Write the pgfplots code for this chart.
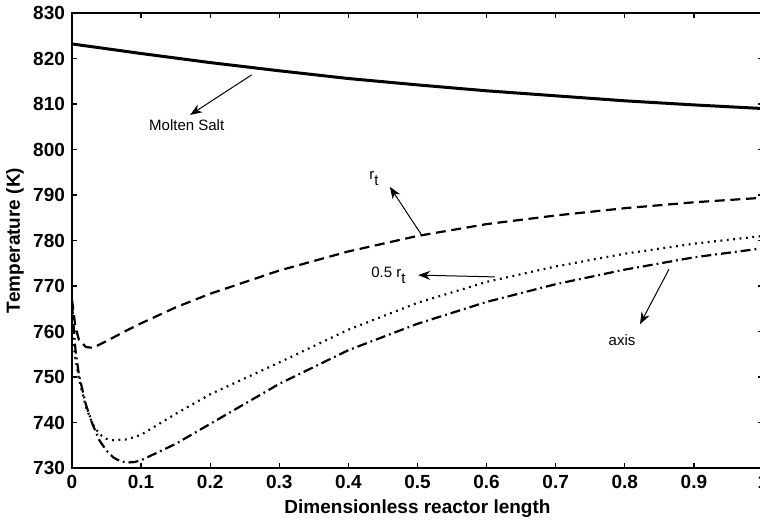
\documentclass[border=0pt]{standalone}
\usepackage{pgfplots}
\pgfplotsset{compat=1.18}
\usepackage{fontspec}
\setmainfont{Liberation Sans}
\usetikzlibrary{arrows.meta}

% Temperature profiles along the reactor
\pgfplotstableread{
x     T
0     823.2
0.1   821.1
0.2   819.1
0.3   817.3
0.4   815.6
0.5   814.2
0.6   812.9
0.7   811.8
0.8   810.7
0.9   809.8
1.0   809.0
}\salt

\pgfplotstableread{
x      T
0      767.0
0.005  761.0
0.01   758.2
0.02   756.6
0.03   756.4
0.05   757.9
0.08   760.3
0.1    761.8
0.15   765.3
0.2    768.3
0.3    773.4
0.4    777.6
0.5    781.0
0.6    783.6
0.7    785.5
0.8    787.1
0.9    788.4
1.0    789.4
}\wall

\pgfplotstableread{
x      T
0      760.0
0.005  754.0
0.01   749.5
0.02   743.5
0.03   739.6
0.04   737.4
0.05   736.4
0.06   736.1
0.08   736.3
0.1    737.3
0.15   741.9
0.2    746.2
0.3    753.2
0.4    760.4
0.5    766.3
0.6    770.9
0.7    774.3
0.8    777.1
0.9    779.3
1.0    781.0
}\half

\pgfplotstableread{
x      T
0      766.0
0.005  756.0
0.01   750.5
0.02   744.0
0.03   739.5
0.04   736.0
0.05   733.8
0.06   732.3
0.07   731.5
0.08   731.2
0.09   731.3
0.1    731.7
0.15   735.3
0.2    739.7
0.3    748.5
0.4    755.9
0.5    761.7
0.6    766.5
0.7    770.4
0.8    773.6
0.9    776.3
1.0    778.3
}\centre

% tube radius symbol with a lowered subscript t
\newcommand{\rt}{r\raisebox{-0.75ex}{t}}

\begin{document}
\begin{tikzpicture}
\begin{axis}[
  scale only axis,
  width=345.5pt, height=227.5pt,
  xmin=0, xmax=1, ymin=730, ymax=830,
  xtick={0,0.1,0.2,0.3,0.4,0.5,0.6,0.7,0.8,0.9,1},
  xticklabels={0,0.1,0.2,0.3,0.4,0.5,0.6,0.7,0.8,0.9,1},
  ytick={730,740,750,760,770,780,790,800,810,820,830},
  tick align=inside, xtick pos=both, ytick pos=both,
  major tick length=2.6pt,
  tick style={line width=0.6pt, black},
  axis line style={line width=0.6pt},
  /pgf/number format/assume math mode=true,
  ticklabel style={font=\fontsize{9.5}{10}\selectfont\bfseries},
  xlabel={Dimensionless reactor length},
  ylabel={Temperature (K)},
  label style={font=\fontsize{9.5}{10}\selectfont\bfseries},
  xlabel style={at={([yshift=-20.5pt]axis description cs:0.5,0)}, anchor=center},
  ylabel style={at={([xshift=-28.5pt]axis description cs:0,0.5)}, anchor=center},
  clip=true,
]
\addplot[black, line width=1.5pt] table[x=x,y=T] {\salt};
\addplot[black, line width=1.1pt, dash pattern=on 5pt off 2.8pt] table[x=x,y=T] {\wall};
\addplot[black, line width=1.1pt, dash pattern=on 0.9pt off 2.3pt] table[x=x,y=T] {\half};
\addplot[black, line width=1.1pt, dash pattern=on 5pt off 2pt on 0.9pt off 2pt] table[x=x,y=T] {\centre};

% annotations
\draw[line width=0.5pt, -{Stealth[length=6pt,width=4.5pt]}] (axis cs:0.260,816.4) -- (axis cs:0.171,807.6);
\node[font=\fontsize{7.5}{8}\selectfont] at (axis cs:0.166,805.3) {Molten Salt};

\draw[line width=0.5pt, -{Stealth[length=6pt,width=4.5pt]}] (axis cs:0.506,781.2) -- (axis cs:0.460,791.8);
\node[font=\fontsize{7.5}{8}\selectfont] at (axis cs:0.437,793.7) {\rt};

\draw[line width=0.5pt, -{Stealth[length=6pt,width=4.5pt]}] (axis cs:0.612,772.0) -- (axis cs:0.501,772.4);
\node[font=\fontsize{7.5}{8}\selectfont] at (axis cs:0.458,772.3) {0.5 \rt};

\draw[line width=0.5pt, -{Stealth[length=6pt,width=4.5pt]}] (axis cs:0.864,773.7) -- (axis cs:0.822,761.6);
\node[font=\fontsize{7.5}{8}\selectfont] at (axis cs:0.796,758.1) {axis};

\coordinate (bl) at (rel axis cs:0,0);
\coordinate (tr) at (rel axis cs:1,1);
\end{axis}
\pgfresetboundingbox
\path[use as bounding box] ([xshift=-36pt,yshift=-29pt]bl) rectangle ([xshift=-1.5pt,yshift=6.5pt]tr);
\end{tikzpicture}
\end{document}
